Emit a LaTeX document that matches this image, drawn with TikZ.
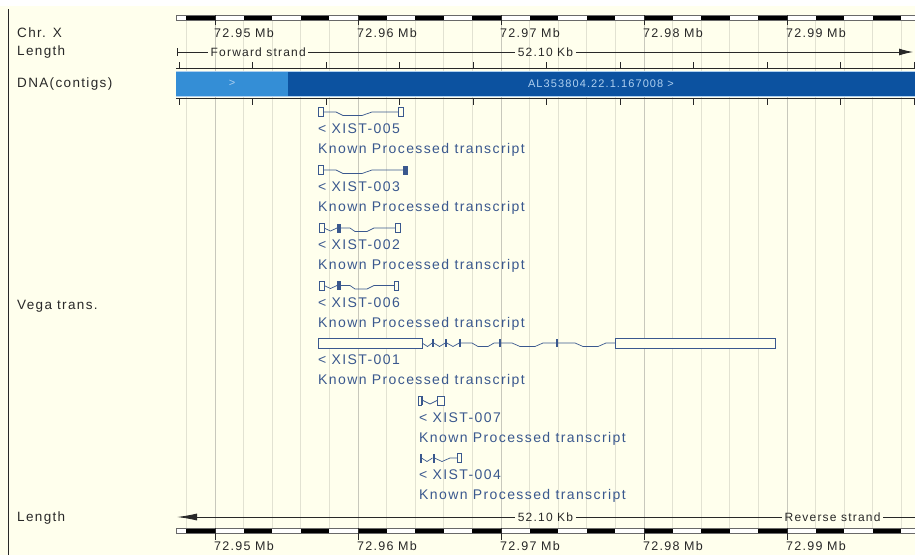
\documentclass[tikz,border=0pt]{standalone}
\usepackage{fontspec}
\setmainfont{Liberation Sans}[LetterSpace=10]
\usepackage{tikz}
\usetikzlibrary{arrows.meta, positioning, calc}
\definecolor{PanelCream}{RGB}{255,255,237}
\definecolor{GridGrey}{RGB}{226,226,210}
\definecolor{MbGrey}{RGB}{200,200,188}
\definecolor{VegaBlue}{RGB}{58,88,142}
\definecolor{ContigLight}{RGB}{52,142,214}
\definecolor{ContigDark}{RGB}{12,82,160}
\definecolor{ContigText}{RGB}{175,208,240}
\definecolor{LabelInk}{RGB}{40,40,40}

\tikzset{
  tracklabel/.style={anchor=west,inner sep=0pt,text=LabelInk,font=\fontsize{13.5}{15}\selectfont},
  rulerlabel/.style={anchor=west,inner sep=0pt,text=LabelInk,font=\fontsize{12.5}{14}\selectfont},
  strandlabel/.style={inner sep=2.5pt,text=LabelInk,font=\fontsize{12}{14}\selectfont},
  translabel/.style={anchor=west,inner sep=0pt,text=VegaBlue,font=\fontsize{14}{16}\selectfont},
  contiglabel/.style={inner sep=0pt,text=ContigText,font=\fontsize{11}{13}\selectfont},
  strandline/.style={draw=LabelInk,line width=0.9pt},
  exon/.style={draw=VegaBlue,fill=PanelCream,line width=0.8pt},
  codingexon/.style={fill=VegaBlue},
  intron/.style={draw=VegaBlue,line width=0.7pt},
}

\begin{document}
\begin{tikzpicture}[x=1pt,y=-1pt]
  \useasboundingbox (0,0) rectangle (915,555);
  \fill[PanelCream] (0,0) rectangle (915,555);
  \fill[white] (0,0) rectangle (915,6);
  \draw[LabelInk,line width=1.2pt] (8.5,9) -- (8.5,555);

  % grid
  \foreach \j in {-1,...,24}
    \draw[GridGrey,line width=0.8pt] ({215+\j*28.6},20) -- ({215+\j*28.6},528);
  \foreach \j in {0,5,10,15,20}
    \draw[MbGrey,line width=0.8pt] ({215+\j*28.6},20) -- ({215+\j*28.6},528);

  % track names
  \node[tracklabel] (chr) at (17,33) {Chr. X};
  \node[tracklabel] (lenTop) at (17,52) {Length};
  \node[tracklabel] (dna) at (17,84) {DNA(contigs)};
  \node[tracklabel] (vega) at (17,306) {Vega trans.};
  \node[tracklabel] (lenBot) at (17,518) {Length};

  % scale bars
  \foreach \yy in {15,528} {
    \fill[white] (176,\yy) rectangle (915,\yy+5);
    \foreach \j in {-1,1,...,23}
      \fill[black] ({215+\j*28.6},\yy) rectangle ({215+(\j+1)*28.6},\yy+5);
    \draw[LabelInk!70,line width=0.5pt] (176,\yy) rectangle (915,\yy+5);
  }
  \foreach \j/\mb in {0/72.95,5/72.96,10/72.97,15/72.98,20/72.99} {
    \draw[LabelInk,line width=0.8pt] ({215+\j*28.6},15) -- ({215+\j*28.6},25);
    \draw[LabelInk,line width=0.8pt] ({215+\j*28.6},528) -- ({215+\j*28.6},540);
    \node[rulerlabel] (mbT\j) at ({214+\j*28.6},33) {\mb\ Mb};
    \node[rulerlabel] (mbB\j) at ({214+\j*28.6},546) {\mb\ Mb};
  }

  % forward strand
  \coordinate (fwdStart) at (177,52);
  \coordinate (fwdEnd) at (913,52);
  \node[strandlabel,anchor=west] (fwd) at (208,52) {Forward strand};
  \node[strandlabel] (kbTop) at (545.5,52) {52.10 Kb};
  \draw[strandline] ([yshift=4pt]fwdStart) -- ([yshift=-4pt]fwdStart);
  \draw[strandline] (fwdStart) -- (fwd);
  \draw[strandline] (fwd) -- (kbTop);
  \draw[strandline,-{Latex[length=14pt,width=7pt]}] (kbTop) -- (fwdEnd);

  % reverse strand
  \coordinate (revStart) at (177,517);
  \coordinate (revEnd) at (915,517);
  \node[strandlabel] (kbBot) at (545.5,517) {52.10 Kb};
  \node[strandlabel,anchor=west] (rev) at (782,517) {Reverse strand};
  \draw[strandline,{Latex[length=20pt,width=7pt]}-] (revStart) -- (kbBot);
  \draw[strandline] (kbBot) -- (rev);
  \draw[strandline] (rev) -- (revEnd);

  % contigs
  \draw[strandline] (176,68.5) -- (915,68.5) (176,98.5) -- (915,98.5);
  \foreach \k in {0,...,10}
    \draw[LabelInk,line width=0.8pt] ({179+\k*73.5},62) -- ({179+\k*73.5},68.5)
      ({179+\k*73.5},98.5) -- ({179+\k*73.5},105);
  \fill[ContigDark] (288,71) rectangle (915,96);
  \fill[ContigLight] (176,71) rectangle (288,96);
  \draw[ContigText,line width=0.6pt] (176,71) -- (915,71) (176,96) -- (915,96);
  \node[contiglabel] (ctgA) at (232,83.5) {>};
  \node[contiglabel] (ctgB) at (601,83.5) {AL353804.22.1.167008 >};

  % XIST-005
  \begin{scope}[shift={(0,112)}]
    \draw[intron] (323,0) -- (336,0) -- (343,3.5) -- (362,3.5) -- (372,0) -- (398,0);
    \draw[exon] (318,-4.5) rectangle (323,4.5);
    \draw[exon] (398,-4.5) rectangle (403,4.5);
    \node[translabel] (id005) at (318,17) {< XIST-005};
    \node[translabel] (kind005) at (318,38) {Known Processed transcript};
  \end{scope}

  % XIST-003
  \begin{scope}[shift={(0,170)}]
    \draw[intron] (323,0) -- (336,0) -- (343,3.5) -- (362,3.5) -- (372,0) -- (403,0);
    \draw[exon] (318,-4.5) rectangle (323,4.5);
    \fill[codingexon] (403,-4.5) rectangle (407.5,4.5);
    \node[translabel] (id003) at (318,17) {< XIST-003};
    \node[translabel] (kind003) at (318,38) {Known Processed transcript};
  \end{scope}

  % XIST-002
  \begin{scope}[shift={(0,228)}]
    \draw[intron] (324,0) -- (330.5,3) -- (337,0);
    \draw[intron] (341,0) -- (350,0) -- (355,3.5) -- (367,3.5) -- (374,0) -- (395,0);
    \draw[exon] (319,-4.5) rectangle (324,4.5);
    \fill[codingexon] (337,-4.5) rectangle (341,4.5);
    \draw[exon] (395,-4.5) rectangle (400,4.5);
    \node[translabel] (id002) at (318,17) {< XIST-002};
    \node[translabel] (kind002) at (318,38) {Known Processed transcript};
  \end{scope}

  % XIST-006
  \begin{scope}[shift={(0,285.5)}]
    \draw[intron] (324,0) -- (330.5,3) -- (337,0);
    \draw[intron] (341,0) -- (350,0) -- (355,3.5) -- (367,3.5) -- (374,0) -- (394,0);
    \draw[exon] (319,-4.5) rectangle (324,4.5);
    \fill[codingexon] (337,-4.5) rectangle (341,4.5);
    \draw[exon] (394,-4.5) rectangle (398,4.5);
    \node[translabel] (id006) at (318,17) {< XIST-006};
    \node[translabel] (kind006) at (318,38) {Known Processed transcript};
  \end{scope}

  % XIST-001
  \begin{scope}[shift={(0,343)}]
    \draw[intron] (422,0) -- (427.5,3.5) -- (432.2,0);
    \draw[intron] (433.8,0) -- (439.5,3.5) -- (445.2,0);
    \draw[intron] (446.8,0) -- (453,3.5) -- (459.2,0);
    \draw[intron] (460.8,0) -- (472,0) -- (478,3.5) -- (488,3.5) -- (494,0) -- (499.2,0);
    \draw[intron] (500.8,0) -- (512,0) -- (520,3.5) -- (535,3.5) -- (543,0) -- (556.2,0);
    \draw[intron] (557.8,0) -- (575,0) -- (583,3.5) -- (598,3.5) -- (606,0) -- (615,0);
    \foreach \ex in {432.2,445.2,459.2,499.2,556.2}
      \fill[codingexon] (\ex,-4) rectangle (\ex+1.6,4);
    \draw[exon] (318,-5) rectangle (422,5);
    \draw[exon] (615,-5) rectangle (775,5);
    \node[translabel] (id001) at (318,17) {< XIST-001};
    \node[translabel] (kind001) at (318,38) {Known Processed transcript};
  \end{scope}

  % XIST-007
  \begin{scope}[shift={(0,400.5)}]
    \draw[intron] (423,0) -- (430,3.5) -- (437,0);
    \draw[exon] (418,-4.5) rectangle (421,4.5);
    \fill[codingexon] (421,-4.5) rectangle (423,4.5);
    \draw[exon] (437,-4.5) rectangle (444.5,4.5);
    \node[translabel] (id007) at (419,17) {< XIST-007};
    \node[translabel] (kind007) at (419,38) {Known Processed transcript};
  \end{scope}

  % XIST-004
  \begin{scope}[shift={(0,458)}]
    \draw[intron] (421.5,0) -- (427,3.5) -- (432.5,0);
    \draw[intron] (434.5,0) -- (442,3.5) -- (450,0) -- (457,0);
    \fill[codingexon] (420,-4.5) rectangle (421.5,4.5);
    \fill[codingexon] (432.5,-4.5) rectangle (434.5,4.5);
    \draw[exon] (457,-4.5) rectangle (461,4.5);
    \node[translabel] (id004) at (419,17) {< XIST-004};
    \node[translabel] (kind004) at (419,38) {Known Processed transcript};
  \end{scope}
\end{tikzpicture}
\end{document}
